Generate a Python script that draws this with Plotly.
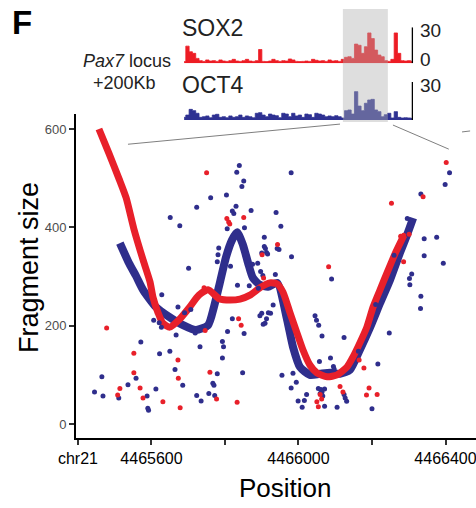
import plotly.graph_objects as go

# ---------------- data ----------------
# loess-like smooth curves (position, fragment size)
red_curve_x = [4465457, 4465484, 4465512, 4465531, 4465552, 4465577, 4465596, 4465604, 4465618, 4465631,
               4465650, 4465675, 4465702, 4465729, 4465754, 4465786, 4465814, 4465841, 4465868, 4465895,
               4465922, 4465942, 4465958, 4465977, 4465996, 4466012, 4466031, 4466050, 4466078, 4466105,
               4466132, 4466148, 4466167, 4466186, 4466203, 4466222, 4466244, 4466265, 4466287]
red_curve_y = [600, 551, 498, 460, 397, 334, 289, 258, 226, 205,
               197, 212, 236, 262, 273, 254, 252, 254, 262, 277,
               287, 285, 268, 226, 185, 151, 120, 104, 96, 100,
               116, 136, 165, 197, 238, 273, 313, 350, 384]
blue_curve_x = [4465514, 4465539, 4465558, 4465577, 4465612, 4465648, 4465686, 4465721, 4465754, 4465770,
                4465786, 4465803, 4465819, 4465833, 4465849, 4465863, 4465876, 4465895, 4465917, 4465942,
                4465969, 4465985, 4466004, 4466031, 4466058, 4466086, 4466113, 4466140, 4466167, 4466195,
                4466222, 4466249, 4466276, 4466295, 4466312]
blue_curve_y = [368, 327, 301, 273, 238, 218, 201, 191, 201, 238,
                287, 340, 374, 390, 364, 327, 297, 283, 279, 287,
                212, 157, 116, 100, 102, 104, 102, 110, 151, 197,
                246, 293, 348, 384, 419]

# individual fragments
blue_x = [4465445, 4465465, 4465468, 4465511, 4465536, 4465558, 4465571, 4465588, 4465590, 4465592,
          4465606, 4465612, 4465621, 4465622, 4465627, 4465628, 4465650, 4465651, 4465664, 4465667,
          4465672, 4465677, 4465685, 4465690, 4465701, 4465707, 4465719, 4465723, 4465723, 4465732,
          4465735, 4465756, 4465761, 4465767, 4465770, 4465772, 4465779, 4465779, 4465781, 4465783,
          4465793, 4465796, 4465793, 4465804, 4465806, 4465807, 4465815, 4465820, 4465824, 4465820,
          4465830, 4465832, 4465834, 4465839, 4465846, 4465848, 4465851, 4465852, 4465853, 4465863,
          4465866, 4465871, 4465875, 4465889, 4465891, 4465897, 4465900, 4465900, 4465895, 4465903,
          4465904, 4465907, 4465907, 4465910, 4465909, 4465913, 4465913, 4465916, 4465918, 4465924,
          4465931, 4465937, 4465939, 4465942, 4465947, 4465952, 4465955, 4465980, 4465981, 4465985,
          4465994, 4465980, 4465999, 4466016, 4466010, 4466022, 4466045, 4466049, 4466055, 4466064,
          4466057, 4466087, 4466095, 4466097, 4466090, 4466054, 4466061, 4466071, 4466064, 4466059,
          4466066, 4466071, 4466105, 4466124, 4466124, 4466127, 4466131, 4466163, 4466200, 4466210,
          4466216, 4466247, 4466260, 4466296, 4466302, 4466303, 4466308, 4466333, 4466333, 4466332,
          4466342, 4466342, 4466376, 4466394, 4466399, 4466411]
blue_y = [65, 96, 57, 53, 80, 93, 167, 57, 32, 28,
          211, 71, 206, 143, 197, 263, 148, 420, 111, 181,
          238, 403, 79, 226, 317, 233, 185, 441, 58, 157,
          47, 62, 460, 83, 79, 58, 102, 330, 344, 358,
          168, 157, 134, 466, 397, 188, 321, 433, 428, 214,
          443, 512, 282, 526, 483, 104, 494, 184, 399, 324,
          281, 434, 325, 327, 276, 310, 348, 225, 220, 302,
          203, 380, 361, 357, 205, 214, 349, 346, 226, 225,
          242, 304, 430, 357, 355, 402, 99, 511, 340, 103,
          85, 73, 47, 48, 34, 60, 220, 211, 201, 179,
          127, 134, 117, 112, 295, 72, 70, 71, 65, 62,
          57, 36, 34, 176, 60, 53, 46, 148, 31, 243,
          122, 185, 343, 418, 296, 283, 305, 468, 260, 235,
          377, 342, 380, 327, 487, 511]
red_x = [4465478, 4465508, 4465514, 4465552, 4465552, 4465569, 4465577, 4465631, 4465672, 4465673,
         4465678, 4465743, 4465746, 4465750, 4465759, 4465777, 4465805, 4465810, 4465813, 4465833,
         4465837, 4465844, 4465851, 4465901, 4465905, 4465943, 4466050, 4466054, 4466059, 4466063,
         4466082, 4466113, 4466121, 4466165, 4466178, 4466185, 4466192, 4466214, 4466253, 4466278,
         4466286, 4466301, 4466286, 4466339, 4466402]
red_y = [195, 59, 72, 144, 104, 73, 53, 45, 130, 93,
         33, 277, 190, 511, 105, 51, 418, 411, 407, 44,
         214, 201, 420, 344, 297, 365, 45, 35, 60, 51,
         320, 76, 65, 130, 114, 59, 73, 60, 449, 382,
         384, 386, 330, 462, 532]

x_tickvals = [4465400, 4465600, 4465800, 4466000, 4466200, 4466400]
x_ticktext = ["chr21", "4465600", "", "4466000", "", "4466400"]
y_tickvals = [0, 200, 400, 600]

# ChIP-seq coverage tracks over the Pax7 locus (+200Kb), 70 bins
track_bins = list(range(70))
sox2_cov = [1.4, 14.3, 9.6, 8.3, 4.1, 2.2, 1.6, 2.8, 1.9, 2.2,
            1.6, 2.8, 1.9, 1.6, 2.2, 3.3, 1.9, 1.6, 2.2, 3.3,
            1.9, 1.6, 2.2, 11.5, 1.6, 1.4, 1.9, 3.3, 2.2, 1.6,
            2.2, 1.9, 3.6, 2.8, 1.6, 1.4, 1.6, 1.9, 1.6, 3.3,
            2.5, 1.9, 2.2, 1.6, 2.8, 1.9, 2.2, 1.6, 3.3, 5.0,
            5.5, 4.1, 16.0, 15.0, 8.3, 13.8, 25.3, 20.6, 11.0, 6.9,
            5.5, 2.2, 1.6, 3.3, 25.3, 8.3, 2.2, 1.9, 2.2, 1.6]
oct4_cov = [2.1, 3.9, 8.4, 7.4, 5.3, 2.1, 2.6, 3.2, 1.8, 3.9,
            4.5, 2.1, 2.6, 1.8, 3.2, 2.1, 2.6, 3.9, 2.1, 3.2,
            2.6, 1.8, 5.3, 5.8, 3.9, 2.6, 4.7, 3.9, 3.4, 1.8,
            5.3, 4.7, 2.6, 5.3, 3.2, 3.9, 2.1, 4.7, 4.2, 2.1,
            5.3, 4.7, 3.9, 2.6, 3.2, 2.6, 3.4, 2.6, 1.6, 7.4,
            7.9, 4.7, 22.4, 11.0, 7.4, 13.2, 15.8, 16.3, 7.9, 6.6,
            2.6, 4.2, 5.3, 1.6, 6.6, 2.1, 1.6, 1.8, 1.6, 1.3]
highlight_bins = [48.0, 61.6]
track_scale = [0, 30]

# zoom connector lines (main-plot coordinates)
zoom_left = ([4465536, 4466113], [569, 610])
zoom_right = ([4466257, 4466409], [608, 559])
zoom_tick = ([4466445, 4466467], [594, 596])

# ---------------- figure ----------------
RED = "#e8202a"
BLUE = "#2f2e8c"
FONT = "Liberation Sans, Arial, sans-serif"
W, H = 476, 508

fig = go.Figure()

fig.add_trace(go.Scatter(x=blue_curve_x, y=blue_curve_y, mode="lines",
                         line=dict(color=BLUE, width=8, shape="spline", smoothing=0.6),
                         xaxis="x", yaxis="y", hoverinfo="skip"))
fig.add_trace(go.Scatter(x=red_curve_x, y=red_curve_y, mode="lines",
                         line=dict(color=RED, width=7, shape="spline", smoothing=0.6),
                         xaxis="x", yaxis="y", hoverinfo="skip"))
fig.add_trace(go.Scatter(x=blue_x, y=blue_y, mode="markers", marker=dict(color=BLUE, size=5),
                         xaxis="x", yaxis="y"))
fig.add_trace(go.Scatter(x=red_x, y=red_y, mode="markers", marker=dict(color=RED, size=5),
                         xaxis="x", yaxis="y"))

fig.add_trace(go.Scatter(x=track_bins, y=sox2_cov, mode="lines", fill="tozeroy",
                         line=dict(color="#ed1c24", width=0.8, shape="hvh"), fillcolor="#ed1c24",
                         xaxis="x2", yaxis="y2", hoverinfo="skip"))
fig.add_trace(go.Scatter(x=track_bins, y=oct4_cov, mode="lines", fill="tozeroy",
                         line=dict(color="#2e3192", width=0.8, shape="hvh"), fillcolor="#2e3192",
                         xaxis="x3", yaxis="y3", hoverinfo="skip"))

px2fx = lambda p: p / W
px2fy = lambda p: 1 - p / H

main_dom_x = [px2fx(76), 1.0]
main_dom_y = [px2fy(438), px2fy(114)]
trk_dom_x = [px2fx(182.5), px2fx(414)]

fig.update_layout(
    width=W, height=H, margin=dict(l=0, r=0, t=0, b=0),
    paper_bgcolor="white", plot_bgcolor="white", showlegend=False,
    font=dict(family=FONT),
    xaxis=dict(domain=main_dom_x, range=[4465394.6, 4466483], anchor="y",
               showline=True, linecolor="black", linewidth=2, showgrid=False, zeroline=False,
               ticks="outside", ticklen=5, tickwidth=1.5, tickcolor="#333333",
               tickvals=x_tickvals, ticktext=x_ticktext, tickfont=dict(size=16, color="black", family=FONT),
               ticklabeloverflow="allow", automargin=False),
    yaxis=dict(domain=main_dom_y, range=[-28.5, 630.5], anchor="x",
               showline=True, linecolor="black", linewidth=2, showgrid=False, zeroline=False,
               ticks="outside", ticklen=5, tickwidth=1.5, tickcolor="#333333",
               tickvals=y_tickvals, tickfont=dict(size=13, color="#4d4d4d", family=FONT),
               automargin=False),
    xaxis2=dict(domain=trk_dom_x, range=[-0.5, 69.5], anchor="y2", visible=False),
    yaxis2=dict(domain=[px2fy(63.3), px2fy(27.3)], range=track_scale, anchor="x2", visible=False),
    xaxis3=dict(domain=trk_dom_x, range=[-0.5, 69.5], anchor="y3", visible=False),
    yaxis3=dict(domain=[px2fy(120), px2fy(82)], range=track_scale, anchor="x3", visible=False),
)

shapes = []
# highlight box across both tracks
shapes.append(dict(type="rect", xref="x2", yref="paper", x0=highlight_bins[0], x1=highlight_bins[1],
                   y0=px2fy(122), y1=px2fy(9), fillcolor="#b0b0b0", opacity=0.42, line=dict(width=0), layer="above"))
# scale bars
shapes.append(dict(type="line", xref="x2 domain", yref="y2", x0=0.993, x1=0.993, y0=track_scale[0], y1=track_scale[1],
                   line=dict(color="black", width=1.3)))
shapes.append(dict(type="line", xref="x3 domain", yref="y3", x0=0.993, x1=0.993, y0=track_scale[0], y1=track_scale[1],
                   line=dict(color="black", width=1.3)))
# zoom connector lines
for (xs, ys) in (zoom_left, zoom_right, zoom_tick):
    shapes.append(dict(type="line", xref="x", yref="y", x0=xs[0], x1=xs[1], y0=ys[0], y1=ys[1],
                       line=dict(color="#7f7f7f", width=1)))
fig.update_layout(shapes=shapes)

ann = []
ann.append(dict(text="<b>F</b>", x=px2fx(22), y=px2fy(22), xref="paper", yref="paper", showarrow=False,
                font=dict(size=33, color="black", family=FONT), xanchor="center", yanchor="middle"))
ann.append(dict(text="SOX2", x=px2fx(180), y=px2fy(28), xref="paper", yref="paper", showarrow=False,
                font=dict(size=23, color="#222222", family=FONT), xanchor="left", yanchor="middle"))
ann.append(dict(text="OCT4", x=px2fx(180), y=px2fy(85), xref="paper", yref="paper", showarrow=False,
                font=dict(size=23, color="#222222", family=FONT), xanchor="left", yanchor="middle"))
ann.append(dict(text="<i>Pax7</i> locus", x=px2fx(173), y=px2fy(61), xref="paper", yref="paper", showarrow=False,
                font=dict(size=18, color="#222222", family=FONT), xanchor="right", yanchor="middle"))
ann.append(dict(text="+200Kb", x=px2fx(124), y=px2fy(83), xref="paper", yref="paper", showarrow=False,
                font=dict(size=18, color="#222222", family=FONT), xanchor="center", yanchor="middle"))
ann.append(dict(text="30", x=px2fx(418), y=px2fy(30), xref="paper", yref="paper", showarrow=False,
                font=dict(size=19, color="#222222", family=FONT), xanchor="left", yanchor="middle"))
ann.append(dict(text="0", x=px2fx(418), y=px2fy(59), xref="paper", yref="paper", showarrow=False,
                font=dict(size=19, color="#222222", family=FONT), xanchor="left", yanchor="middle"))
ann.append(dict(text="30", x=px2fx(418), y=px2fy(85), xref="paper", yref="paper", showarrow=False,
                font=dict(size=19, color="#222222", family=FONT), xanchor="left", yanchor="middle"))
ann.append(dict(text="Position", x=px2fx(285), y=px2fy(488), xref="paper", yref="paper", showarrow=False,
                font=dict(size=26, color="black", family=FONT), xanchor="center", yanchor="middle"))
ann.append(dict(text="Fragment size", x=px2fx(29), y=px2fy(268), xref="paper", yref="paper", showarrow=False,
                textangle=-90, font=dict(size=27, color="black", family=FONT), xanchor="center", yanchor="middle"))
fig.update_layout(annotations=ann)

fig.write_html("out.html")
